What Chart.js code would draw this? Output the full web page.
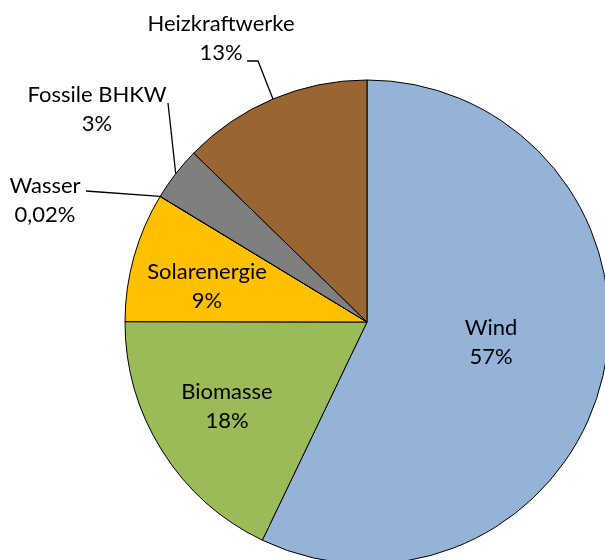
<!DOCTYPE html>
<html>
<head>
<meta charset="utf-8">
<script src="https://cdn.jsdelivr.net/npm/chart.js@4/dist/chart.umd.min.js"></script>
<style>
  html, body { margin: 0; padding: 0; background: #fff; overflow: hidden; width: 605px; height: 560px; }
  #wrap { position: absolute; left: 0; top: 0; width: 734px; height: 644px; }
</style>
</head>
<body>
<div id="wrap"><canvas id="c" width="734" height="644"></canvas></div>
<script>
const categories = ["Wind", "Biomasse", "Solarenergie", "Wasser", "Fossile BHKW", "Heizkraftwerke"];
const values = [57.1, 17.9, 8.65, 0.02, 3.6, 12.7];
const percentLabels = ["57%", "18%", "9%", "0,02%", "3%", "13%"];
const colors = ["#95B3D7", "#9BBB59", "#FFC000", "#4F81BD", "#7F7F7F", "#996633"];

// Label layout (text baselines / centers) and leader lines
const FONT = "22px Lato";
const LINE_H = 29;
const labelLayout = [
  { x: 491, y: 335, leader: null },
  { x: 227, y: 399, leader: null },
  { x: 207, y: 279, leader: null },
  { x: 45,  y: 193, leader: [[86, 191]] },
  { x: 97,  y: 101.5, leader: [[168, 103]] },
  { x: 221, y: 31, leader: [[247, 61], [258, 61]] }
];

const labelPlugin = {
  id: 'pieLabels',
  afterDatasetsDraw(chart) {
    const ctx = chart.ctx;
    const meta = chart.getDatasetMeta(0);
    ctx.save();
    ctx.font = FONT;
    ctx.fillStyle = "#000";
    ctx.textAlign = "center";
    ctx.textBaseline = "alphabetic";
    meta.data.forEach((arc, i) => {
      const L = labelLayout[i];
      ctx.fillText(categories[i], L.x, L.y);
      ctx.fillText(percentLabels[i], L.x, L.y + LINE_H);
      if (L.leader) {
        const p = arc.getProps(['x', 'y', 'startAngle', 'endAngle', 'outerRadius'], true);
        const mid = (p.startAngle + p.endAngle) / 2;
        const ex = p.x + Math.cos(mid) * p.outerRadius;
        const ey = p.y + Math.sin(mid) * p.outerRadius;
        ctx.beginPath();
        ctx.strokeStyle = "#000";
        ctx.lineWidth = 1.3;
        ctx.moveTo(L.leader[0][0], L.leader[0][1]);
        for (let k = 1; k < L.leader.length; k++) ctx.lineTo(L.leader[k][0], L.leader[k][1]);
        ctx.lineTo(ex, ey);
        ctx.stroke();
      }
    });
    ctx.restore();
  }
};

new Chart(document.getElementById('c'), {
  type: 'pie',
  data: {
    labels: categories,
    datasets: [{
      data: values,
      backgroundColor: colors,
      borderColor: "#000",
      borderWidth: 1
    }]
  },
  options: {
    responsive: false,
    animation: false,
    radius: 242,
    layout: { padding: 0 },
    plugins: {
      legend: { display: false },
      tooltip: { enabled: false },
      title: { display: false }
    }
  },
  plugins: [labelPlugin]
});
</script>
</body>
</html>
